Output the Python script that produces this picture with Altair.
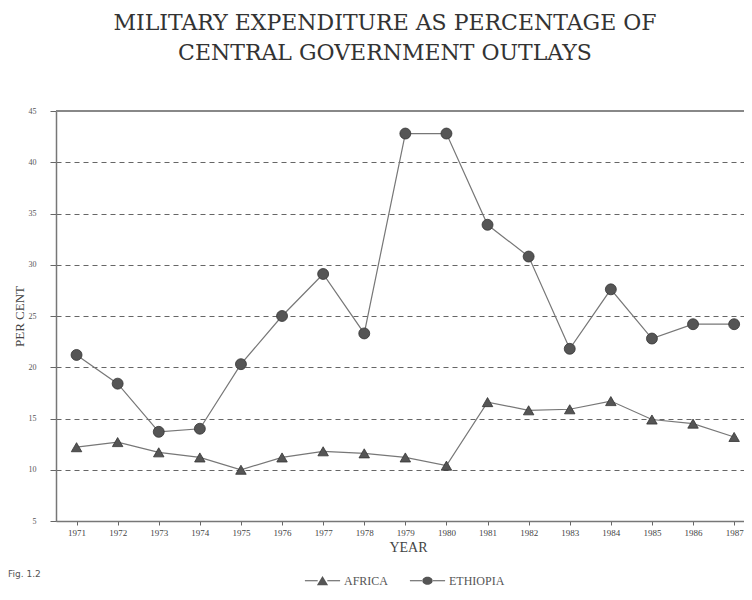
import altair as alt
import pandas as pd

years = list(range(1971, 1988))
africa = [12.2, 12.7, 11.7, 11.2, 10.0, 11.2, 11.8, 11.6, 11.2, 10.4, 16.6, 15.8, 15.9, 16.7, 14.9, 14.5, 13.2]
ethiopia = [21.2, 18.4, 13.7, 14.0, 20.3, 25.0, 29.1, 23.3, 42.8, 42.8, 33.9, 30.8, 21.8, 27.6, 22.8, 24.2, 24.2]
series_names = ["AFRICA", "ETHIOPIA"]
y_ticks = [5, 10, 15, 20, 25, 30, 35, 40, 45]
title_lines = ["MILITARY EXPENDITURE AS PERCENTAGE OF", "CENTRAL GOVERNMENT OUTLAYS"]

rows = []
for yr, a, e in zip(years, africa, ethiopia):
    rows.append({"year": yr, "series": "AFRICA", "value": a})
    rows.append({"year": yr, "series": "ETHIOPIA", "value": e})
df = pd.DataFrame(rows)

W, H = 688, 410
serif = "Liberation Serif"

x = alt.X("year:Q",
          scale=alt.Scale(domain=[1970.5, 1987.24], nice=False, zero=False),
          axis=alt.Axis(values=years, format="d", title="YEAR", labelFont=serif, labelFontSize=9,
                        labelColor="#444", tickColor="#666", tickSize=4, domainColor="#777",
                        domainWidth=1.5, grid=False, titleFont=serif, titleFontSize=14,
                        titleFontWeight="normal", titleColor="#444", labelOverlap=False,
                        labelPadding=3, titleX=352, titleY=30, titleBaseline="alphabetic"))
y = alt.Y("value:Q",
          scale=alt.Scale(domain=[5, 45], nice=False, zero=False),
          axis=alt.Axis(values=y_ticks, title="PER CENT", labelFont=serif, labelFontSize=8,
                        labelColor="#555", tickColor="#666", tickSize=6, labelPadding=14,
                        domainColor="#777", domainWidth=1.5, grid=True, gridColor="#666",
                        gridDash=[5, 4], gridWidth=1.1, titleFont=serif, titleFontSize=13,
                        titleFontWeight="normal", titleColor="#444", titleX=-33, titleY=205,
                        titleAlign="center", titleBaseline="alphabetic"))

base = alt.Chart(df)

lines = base.mark_line(color="#777", strokeWidth=1.2).encode(x=x, y=y, detail="series:N")

pts_af = base.transform_filter(alt.datum.series == "AFRICA").mark_point(
    shape="triangle-up", filled=True, color="#555", stroke="#333", strokeWidth=0.8, opacity=1, size=110
).encode(x=x, y=y)
pts_et = base.transform_filter(alt.datum.series == "ETHIOPIA").mark_point(
    shape="circle", filled=True, color="#555", stroke="#333", strokeWidth=0.8, opacity=1, size=120
).encode(x=x, y=y)

side_bars = "M-2.2,-0.07H-0.6V0.07H-2.2Z M0.6,-0.07H2.2V0.07H0.6Z"
tri_path = side_bars + " M-0.7,0.55L0,-0.6L0.7,0.55Z"
circ_path = side_bars + " M-0.65,0 A0.65,0.5 0 1,0 0.65,0 A0.65,0.5 0 1,0 -0.65,0 Z"

leg = base.mark_point(filled=True, color="#555", opacity=0, size=256).encode(
    x=x, y=y,
    shape=alt.Shape("series:N", scale=alt.Scale(domain=series_names, range=[tri_path, circ_path]),
                    legend=alt.Legend(title=None, orient="none", legendX=258, legendY=461,
                                      direction="horizontal", symbolSize=256, symbolOpacity=1,
                                      symbolFillColor="#555", symbolStrokeColor="#555",
                                      symbolStrokeWidth=0.5,
                                      labelFont=serif, labelFontSize=12,
                                      labelColor="#555", labelOffset=13, columnPadding=19)))

top_rule = alt.Chart(pd.DataFrame({"a": [0]})).mark_rule(color="#888", strokeWidth=2).encode(
    x=alt.value(0), x2=alt.value(W), y=alt.value(0))

fig = alt.Chart(pd.DataFrame({"t": ["Fig. 1.2"]})).mark_text(
    align="left", baseline="alphabetic", font="DejaVu Sans", fontSize=9, color="#555").encode(
    text="t:N", x=alt.value(-48), y=alt.value(466))

chart = alt.layer(top_rule, lines, pts_af, pts_et, leg, fig).properties(
    width=W, height=H,
    autosize=alt.AutoSizeParams(type="none"),
    padding={"left": 48, "top": 103, "right": 0, "bottom": 70},
    background="white",
    title=alt.TitleParams(title_lines, font="DejaVu Serif", fontSize=22, fontWeight="normal", color="#333",
                          anchor="middle", frame="group", dx=-15, offset=42, lineHeight=30),
).configure_view(strokeWidth=0)

chart.save("out.html", embed_options={"renderer": "svg", "actions": False})
